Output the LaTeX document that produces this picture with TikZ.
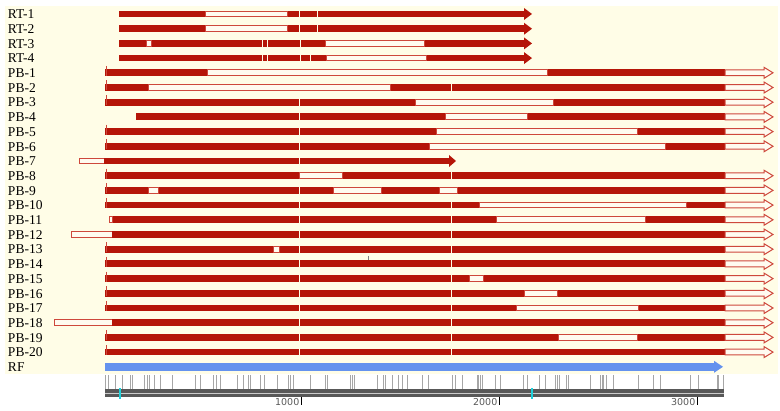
\documentclass[tikz,border=0pt]{standalone}
\usepackage{fontspec}
\setmainfont{Liberation Serif}
\newfontfamily\rulerfont{DejaVu Sans}
\usetikzlibrary{positioning}

\definecolor{cream}{RGB}{255,253,231}
\definecolor{barred}{RGB}{181,21,8}
\definecolor{segred}{RGB}{206,72,60}
\definecolor{segfill}{RGB}{255,251,240}
\definecolor{rfblue}{RGB}{100,146,238}
\definecolor{rulergray}{RGB}{88,88,88}
\definecolor{markcyan}{RGB}{30,210,220}

% bar pieces: row, from x, to x
\newcommand{\darkseg}[3]{\fill[barred, shift={(0,14+14.7*#1)}] (#2,-3.4) rectangle (#3,3.4);}
\newcommand{\lightseg}[3]{\draw[segline, shift={(0,14+14.7*#1)}] (#2,-2.9) rectangle (#3,2.9);}
\newcommand{\gapmark}[2]{\draw[gapline, shift={(0,14+14.7*#1)}] (#2,-3.4) -- (#2,3.4);}
\newcommand{\startmark}[1]{\draw[startline, shift={(0,14+14.7*#1)}] (106,-7) -- (106,3);}
\newcommand{\solidhead}[4]{\fill[#4, shift={(0,14+14.7*#1)}] (#2,-6) -- (#3,0) -- (#2,6) -- cycle;}
\newcommand{\hollowend}[1]{\draw[segline, shift={(0,14+14.7*#1)}] (725,-2.9) -- (764,-2.9) -- (764,-5.5) -- (773,0) -- (764,5.5) -- (764,2.9) -- (725,2.9) -- cycle;}

\begin{document}
\begin{tikzpicture}[x=1pt,y=-1pt,
rowlabel/.style={text width=38pt, align=left, inner sep=0pt, outer sep=0pt, minimum height=14.7pt, text height=9.5pt, text depth=0pt, font=\fontsize{13.5}{14}\selectfont},
segline/.style={draw=segred, fill=segfill, line width=1pt},
gapline/.style={draw=cream, line width=1pt},
startline/.style={draw=segred, line width=0.9pt},
rulertick/.style={draw=gray!70, line width=1pt},
rulerlabel/.style={anchor=base east, inner sep=0pt, text=rulergray, font=\rulerfont\fontsize{9.5}{10}\selectfont},
]
\useasboundingbox (0,0) rectangle (780,411);
\fill[cream] (5,6) rectangle (778,374);

%Labels
\node[rowlabel] (RT1) at (27,14) {RT-1};
\node[rowlabel] (RT2) [below=0pt of RT1] {RT-2};
\node[rowlabel] (RT3) [below=0pt of RT2] {RT-3};
\node[rowlabel] (RT4) [below=0pt of RT3] {RT-4};
\node[rowlabel] (PB1) [below=0pt of RT4] {PB-1};
\node[rowlabel] (PB2) [below=0pt of PB1] {PB-2};
\node[rowlabel] (PB3) [below=0pt of PB2] {PB-3};
\node[rowlabel] (PB4) [below=0pt of PB3] {PB-4};
\node[rowlabel] (PB5) [below=0pt of PB4] {PB-5};
\node[rowlabel] (PB6) [below=0pt of PB5] {PB-6};
\node[rowlabel] (PB7) [below=0pt of PB6] {PB-7};
\node[rowlabel] (PB8) [below=0pt of PB7] {PB-8};
\node[rowlabel] (PB9) [below=0pt of PB8] {PB-9};
\node[rowlabel] (PB10) [below=0pt of PB9] {PB-10};
\node[rowlabel] (PB11) [below=0pt of PB10] {PB-11};
\node[rowlabel] (PB12) [below=0pt of PB11] {PB-12};
\node[rowlabel] (PB13) [below=0pt of PB12] {PB-13};
\node[rowlabel] (PB14) [below=0pt of PB13] {PB-14};
\node[rowlabel] (PB15) [below=0pt of PB14] {PB-15};
\node[rowlabel] (PB16) [below=0pt of PB15] {PB-16};
\node[rowlabel] (PB17) [below=0pt of PB16] {PB-17};
\node[rowlabel] (PB18) [below=0pt of PB17] {PB-18};
\node[rowlabel] (PB19) [below=0pt of PB18] {PB-19};
\node[rowlabel] (PB20) [below=0pt of PB19] {PB-20};
\node[rowlabel] (RF) [below=0pt of PB20] {RF};

%RT bars
\darkseg{0}{119}{525}\solidhead{0}{524}{532}{barred}
\lightseg{0}{205}{287}\gapmark{0}{299}\gapmark{0}{317}
\darkseg{1}{119}{525}\solidhead{1}{524}{532}{barred}
\lightseg{1}{205}{287}\gapmark{1}{299}\gapmark{1}{317}
\darkseg{2}{119}{525}\solidhead{2}{524}{532}{barred}
\lightseg{2}{146}{151}\lightseg{2}{325}{424}
\gapmark{2}{262}\gapmark{2}{267}\gapmark{2}{300}
\darkseg{3}{119}{525}\solidhead{3}{524}{532}{barred}
\lightseg{3}{326}{426}
\gapmark{3}{262}\gapmark{3}{267}\gapmark{3}{300}\gapmark{3}{310}

%PB bars
\darkseg{4}{105}{725}\lightseg{4}{207}{547}\hollowend{4}\startmark{4}
\darkseg{5}{105}{725}\lightseg{5}{148}{390}\gapmark{5}{451}\hollowend{5}\startmark{5}
\darkseg{6}{105}{725}\lightseg{6}{415}{553}\gapmark{6}{299}\hollowend{6}\startmark{6}
\darkseg{7}{136}{725}\lightseg{7}{445}{527}\gapmark{7}{299}\hollowend{7}
\darkseg{8}{105}{725}\lightseg{8}{436}{637}\gapmark{8}{299}\hollowend{8}\startmark{8}
\darkseg{9}{105}{725}\lightseg{9}{429}{665}\gapmark{9}{299}\hollowend{9}\startmark{9}
\lightseg{10}{79}{104}\darkseg{10}{104}{450}\solidhead{10}{449}{456}{barred}\gapmark{10}{299}
\darkseg{11}{105}{725}\lightseg{11}{299}{342}\gapmark{11}{451}\hollowend{11}\startmark{11}
\darkseg{12}{105}{725}\lightseg{12}{148}{158}\lightseg{12}{333}{381}\lightseg{12}{439}{457}
\gapmark{12}{299}\hollowend{12}\startmark{12}
\darkseg{13}{105}{725}\lightseg{13}{479}{686}\gapmark{13}{299}\gapmark{13}{451}\hollowend{13}\startmark{13}
\darkseg{14}{109}{725}\lightseg{14}{109}{112}\lightseg{14}{496}{645}\gapmark{14}{299}\gapmark{14}{451}\hollowend{14}
\lightseg{15}{71}{112}\darkseg{15}{112}{725}\gapmark{15}{299}\gapmark{15}{451}\hollowend{15}
\darkseg{16}{105}{725}\lightseg{16}{273}{279}\gapmark{16}{299}\gapmark{16}{451}\hollowend{16}\startmark{16}
\darkseg{17}{105}{725}\gapmark{17}{299}\gapmark{17}{451}\hollowend{17}\startmark{17}
\draw[gray, line width=0.9pt] (368,256) -- (368,260);
\darkseg{18}{105}{725}\lightseg{18}{469}{483}\gapmark{18}{299}\gapmark{18}{451}\hollowend{18}\startmark{18}
\darkseg{19}{105}{725}\lightseg{19}{524}{557}\gapmark{19}{299}\gapmark{19}{451}\hollowend{19}\startmark{19}
\darkseg{20}{105}{725}\lightseg{20}{516}{638}\gapmark{20}{299}\gapmark{20}{451}\hollowend{20}\startmark{20}
\lightseg{21}{54}{112}\darkseg{21}{112}{725}\gapmark{21}{299}\gapmark{21}{451}\hollowend{21}
\darkseg{22}{105}{725}\lightseg{22}{558}{637}\gapmark{22}{299}\gapmark{22}{451}\hollowend{22}\startmark{22}
\darkseg{23}{105}{725}\gapmark{23}{299}\gapmark{23}{451}\hollowend{23}\startmark{23}

%RF bar
\fill[rfblue] (105,363) rectangle (715,370.6);
\solidhead{24}{714}{723}{rfblue}

%Ruler
\foreach \x in {105,108,115,122,130,132,144,147,149,154,160,172,195,200,213,216,220,237,243,248,250,260,264,277,288,290,293,310,325,327,350,352,354,377,383,385,392,398,402,407,422,428,452,455,462,477,478,480,482,495,500,523,527,539,545,555,557,559,566,568,590,600,602,603,606,613,638,653,660,690,698,717,718,723}
  \draw[rulertick] (\x,375) -- (\x,389);
\fill[rulergray] (105,389.5) rectangle (724,397);
\draw[gray!40, line width=0.9pt] (105,393.3) -- (724,393.3);
\draw[markcyan, line width=1.6pt] (120,388.5) -- (120,399);
\draw[markcyan, line width=1.6pt] (532,388.5) -- (532,399);
\node[rulerlabel] (k1) at (299.5,406) {1000};
\node[rulerlabel] (k2) at (497.5,406) {2000};
\node[rulerlabel] (k3) at (695.5,406) {3000};
\draw[black, line width=1pt] (301.5,397) -- (301.5,405.5);
\draw[black, line width=1pt] (499.5,397) -- (499.5,405.5);
\draw[black, line width=1pt] (697.5,397) -- (697.5,405.5);

\end{tikzpicture}
\end{document}
